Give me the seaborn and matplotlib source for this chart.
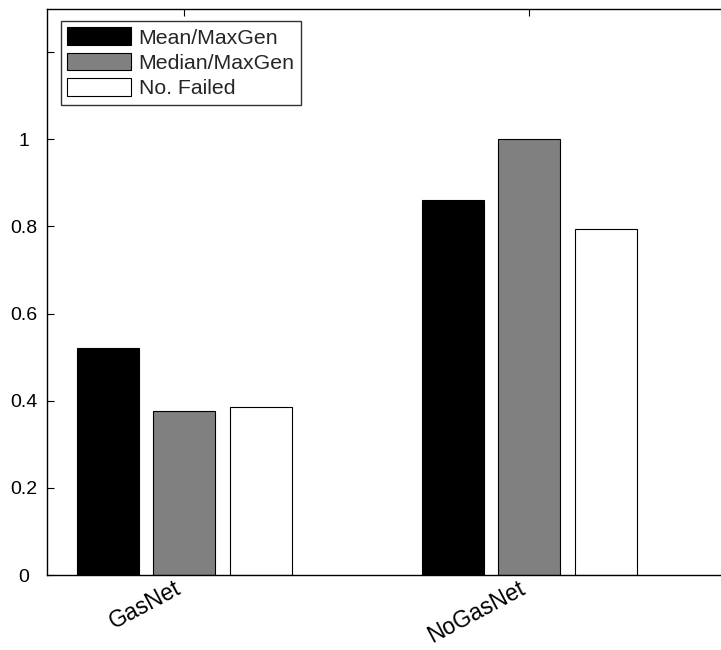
import matplotlib
matplotlib.use("Agg")
import matplotlib.pyplot as plt
import seaborn as sns
import pandas as pd

# Data
networks = ["GasNet", "NoGasNet"]
measures = ["Mean/MaxGen", "Median/MaxGen", "No. Failed"]
mean_maxgen = [0.521, 0.861]
median_maxgen = [0.376, 1.0]
no_failed = [0.385, 0.794]
ytick_values = [0, 0.2, 0.4, 0.6, 0.8, 1.0, 1.2]
ytick_labels = ["0", "0.2", "0.4", "0.6", "0.8", "1", ""]

rows = []
for name, vals in zip(measures, [mean_maxgen, median_maxgen, no_failed]):
    for net, v in zip(networks, vals):
        rows.append({"network": net, "measure": name, "value": v})
df = pd.DataFrame(rows)

sns.set_theme(style="white")
plt.rcParams["font.family"] = ["Liberation Sans", "DejaVu Sans"]

W, H = 721, 650
fig = plt.figure(figsize=(W / 100, H / 100), dpi=100)
# axes box runs slightly past the right edge of the canvas
left_px, right_px, top_px, bottom_px = 46.5, 736.0, 8.5, 575.0
ax = fig.add_axes([left_px / W, 1 - bottom_px / H,
                   (right_px - left_px) / W, (bottom_px - top_px) / H])

palette = {"Mean/MaxGen": "#000000", "Median/MaxGen": "#808080", "No. Failed": "#ffffff"}
sns.barplot(data=df, x="network", y="value", hue="measure", order=networks,
            hue_order=measures, palette=palette, width=0.665, gap=0.19,
            edgecolor="black", linewidth=0.8, saturation=1, ax=ax)

ax.set_xlim(-0.4, 1.6)
ax.set_ylim(0, 1.3)
ax.set_yticks(ytick_values)
ax.set_yticklabels(ytick_labels, fontsize=14)
for lab in ax.get_yticklabels():
    lab.set_horizontalalignment("center")
ax.set_xticks([0, 1])
ax.set_xticklabels(networks, fontsize=16.5, rotation=28, ha="right", va="top",
                   rotation_mode="default")
ax.set_xlabel("")
ax.set_ylabel("")

for s in ax.spines.values():
    s.set_color("black")
    s.set_linewidth(1.0)

ax.tick_params(axis="both", direction="in", length=5, width=0.8, color="black",
               top=True, right=True, bottom=True, left=True, labelcolor="black")
ax.tick_params(axis="y", pad=16.5)
ax.tick_params(axis="x", pad=1.5)

leg = ax.legend(loc="upper left", bbox_to_anchor=(14.5 / (right_px - left_px), 1 - 12.5 / (bottom_px - top_px)),
                fontsize=15.3, frameon=True, fancybox=False, edgecolor="black",
                handlelength=3.0, handleheight=0.9, handletextpad=0.35,
                labelspacing=0.25, borderpad=0.3, borderaxespad=0.0)
leg.get_frame().set_linewidth(1.0)

fig.savefig("out.png", dpi=100)
